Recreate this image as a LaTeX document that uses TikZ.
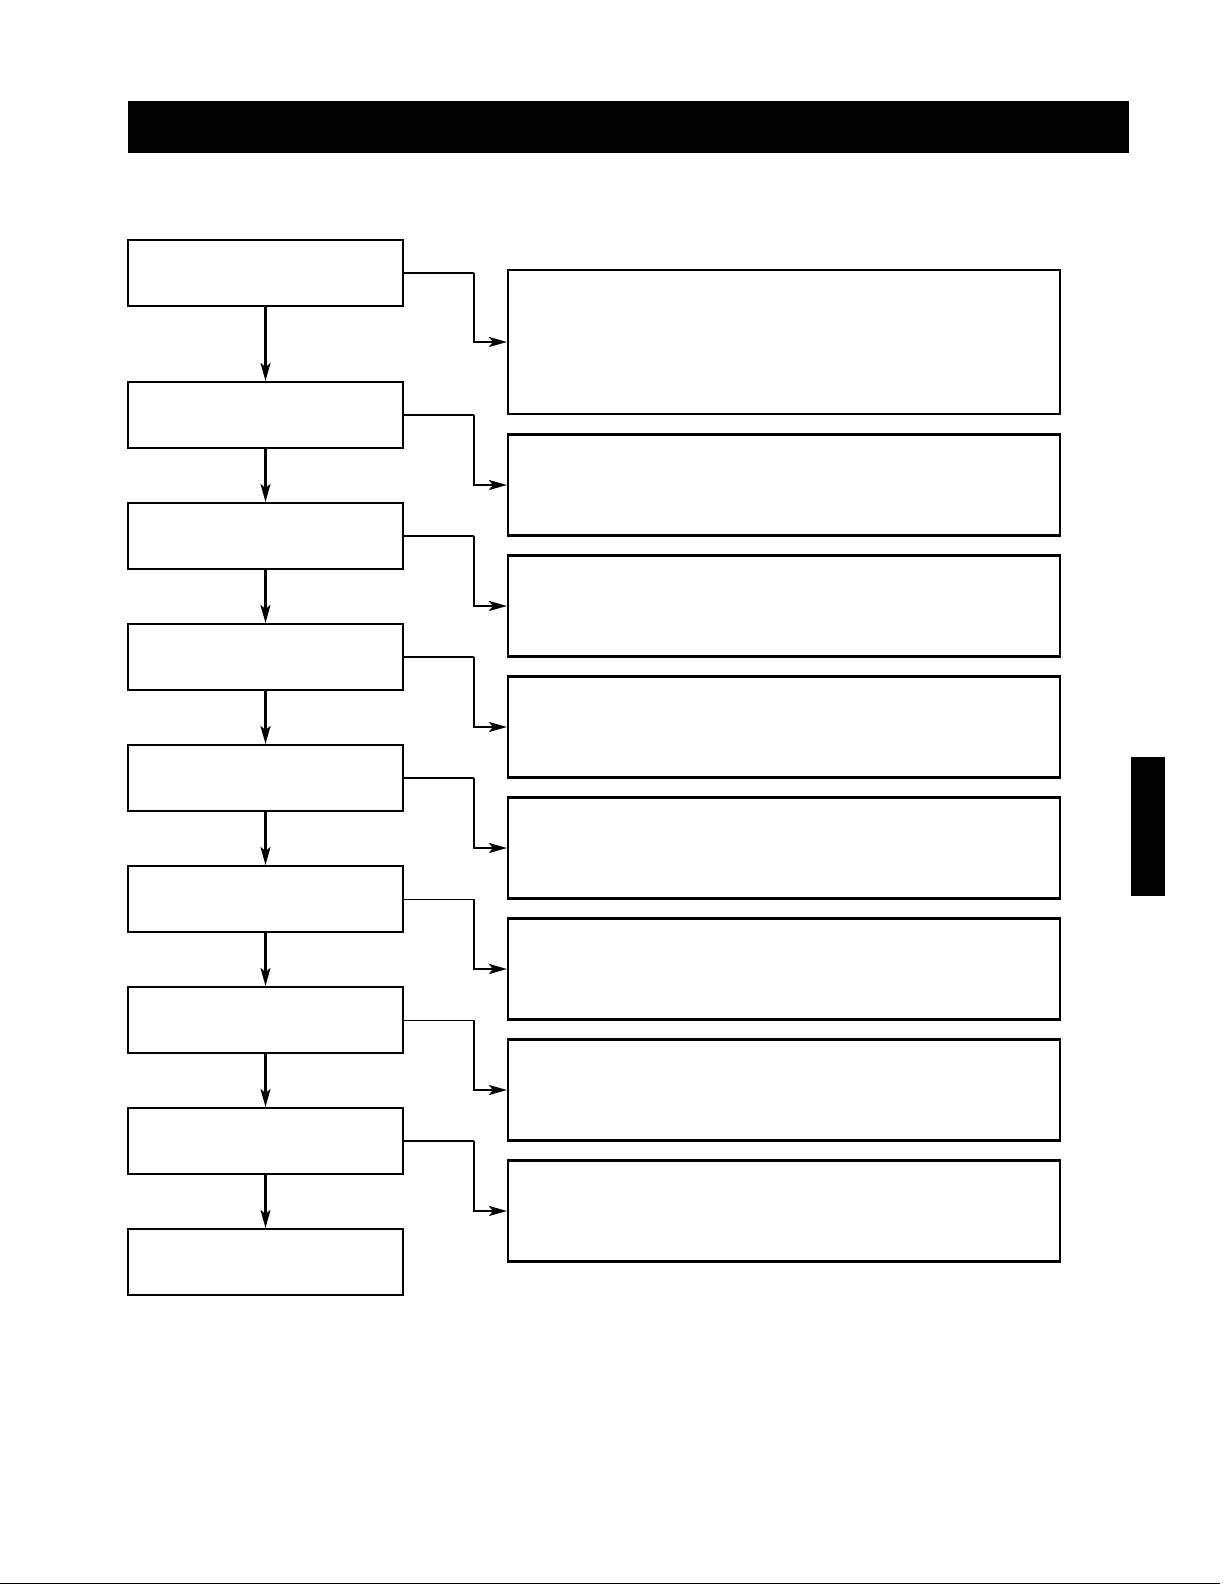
\documentclass[tikz,border=0pt]{standalone}
\usetikzlibrary{arrows.meta}

\tikzstyle{step box}=[draw, line width=2.1pt, minimum width=275pt, minimum height=66pt, inner sep=0pt]
\tikzstyle{note box}=[draw, line width=2.1pt, minimum width=552pt, minimum height=101pt, inner sep=0pt]
\tikzstyle{arrow}=[line width=2.1pt, -{Stealth[length=18pt, width=10pt, inset=4pt]}]
\tikzstyle{leg}=[line width=2.1pt]
\tikzstyle{thin leg}=[line width=1pt]

\begin{document}
\begin{tikzpicture}[x=1pt, y=-1pt]
      \useasboundingbox (0,0) rectangle (1225,1585);

      % header bar, side tab, foot line
      \fill (128,101) rectangle (1129,153);
      \fill (1131,757) rectangle (1165,896);
      \draw[line width=1pt] (0,1583) -- (1220,1583);

      \node[step box] (s1) at (265.5, 273) {};
      \node[step box] (s2) at (265.5, 415) {};
      \node[step box] (s3) at (265.5, 536) {};
      \node[step box] (s4) at (265.5, 657) {};
      \node[step box] (s5) at (265.5, 778) {};
      \node[step box] (s6) at (265.5, 899) {};
      \node[step box] (s7) at (265.5, 1020) {};
      \node[step box] (s8) at (265.5, 1141) {};
      \node[step box] (s9) at (265.5, 1262) {};

      \node[note box, minimum height=144pt] (n1) at (784, 342) {};
      \node[note box] (n2) at (784, 485) {};
      \node[note box] (n3) at (784, 606) {};
      \node[note box] (n4) at (784, 727) {};
      \node[note box] (n5) at (784, 848) {};
      \node[note box] (n6) at (784, 969) {};
      \node[note box] (n7) at (784, 1090) {};
      \node[note box] (n8) at (784, 1211) {};

      \draw[arrow] (s1) to (s2);
      \draw[arrow] (s2) to (s3);
      \draw[arrow] (s3) to (s4);
      \draw[arrow] (s4) to (s5);
      \draw[arrow] (s5) to (s6);
      \draw[arrow] (s6) to (s7);
      \draw[arrow] (s7) to (s8);
      \draw[arrow] (s8) to (s9);

      \draw[leg] (s1.east) -- ++(70,0) coordinate (k1);
      \draw[leg] (s2.east) -- ++(70,0) coordinate (k2);
      \draw[leg] (s3.east) -- ++(70,0) coordinate (k3);
      \draw[leg] (s4.east) -- ++(70,0) coordinate (k4);
      \draw[leg] (s5.east) -- ++(70,0) coordinate (k5);
      \draw[thin leg] (s6.east) -- ++(70,0) coordinate (k6);
      \draw[thin leg] (s7.east) -- ++(70,0) coordinate (k7);
      \draw[leg] (s8.east) -- ++(70,0) coordinate (k8);

      \draw[arrow] (k1) |- (n1.west);
      \draw[arrow] (k2) |- (n2.west);
      \draw[arrow] (k3) |- (n3.west);
      \draw[arrow] (k4) |- (n4.west);
      \draw[arrow] (k5) |- (n5.west);
      \draw[arrow] (k6) |- (n6.west);
      \draw[arrow] (k7) |- (n7.west);
      \draw[arrow] (k8) |- (n8.west);
    \end{tikzpicture}
\end{document}
